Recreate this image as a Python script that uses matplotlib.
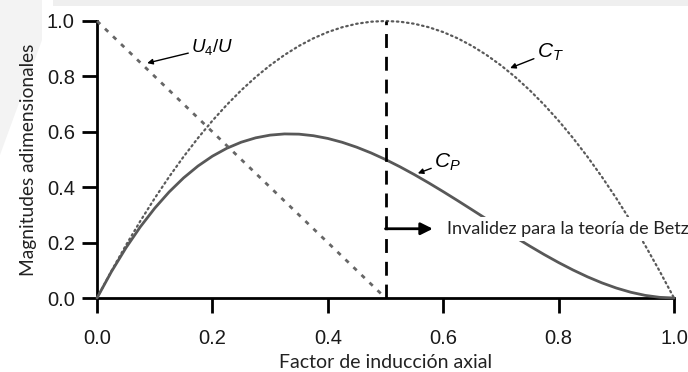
import matplotlib
matplotlib.use("Agg")
import matplotlib.pyplot as plt
from matplotlib.patches import Polygon, Rectangle

# ---- data ----
a_vals = [0.0, 0.025, 0.05, 0.075, 0.1, 0.125, 0.15, 0.175, 0.2, 0.225, 0.25,
          0.275, 0.3, 0.325, 0.35, 0.375, 0.4, 0.425, 0.45, 0.475, 0.5,
          0.525, 0.55, 0.575, 0.6, 0.625, 0.65, 0.675, 0.7, 0.725, 0.75,
          0.775, 0.8, 0.825, 0.85, 0.875, 0.9, 0.925, 0.95, 0.975, 1.0]
ct_vals = [0.0, 0.0975, 0.19, 0.2775, 0.36, 0.4375, 0.51, 0.5775, 0.64, 0.6975, 0.75,
           0.7975, 0.84, 0.8775, 0.91, 0.9375, 0.96, 0.9775, 0.99, 0.9975, 1.0,
           0.9975, 0.99, 0.9775, 0.96, 0.9375, 0.91, 0.8775, 0.84, 0.7975, 0.75,
           0.6975, 0.64, 0.5775, 0.51, 0.4375, 0.36, 0.2775, 0.19, 0.0975, 0.0]
cp_vals = [0.0, 0.0951, 0.1805, 0.2567, 0.324, 0.3828, 0.4335, 0.4764, 0.512, 0.5406, 0.5625,
           0.5782, 0.588, 0.5923, 0.5915, 0.5859, 0.576, 0.5621, 0.5445, 0.5237, 0.5,
           0.4738, 0.4455, 0.4154, 0.384, 0.3516, 0.3185, 0.2852, 0.252, 0.2193, 0.1875,
           0.1569, 0.128, 0.1011, 0.0765, 0.0547, 0.036, 0.0208, 0.0095, 0.0024, 0.0]
u4_a = [0.0, 0.5]
u4_vals = [1.0, 0.0]
betz_limit = 0.5
arrow_y = 0.25
arrow_end = 0.582
ticks = [0.0, 0.2, 0.4, 0.6, 0.8, 1.0]
tick_labels = ["0.0", "0.2", "0.4", "0.6", "0.8", "1.0"]

plt.rcParams['mathtext.fontset'] = 'custom'
plt.rcParams['mathtext.it'] = 'Liberation Sans:italic'
plt.rcParams['mathtext.rm'] = 'Liberation Sans'

fig = plt.figure(figsize=(6.88, 3.72), dpi=100)
fig.patch.set_facecolor('white')

# faint watermark shapes of the background page
W, H = 688.0, 372.0
fig.patches.append(Rectangle((53 / W, 1 - 6 / H), 1 - 53 / W, 6 / H,
                             transform=fig.transFigure, facecolor='#efefef',
                             edgecolor='none', zorder=-10))
fig.patches.append(Polygon([(0, 1), (42 / W, 1), (42 / W, 1 - 40 / H), (0, 1 - 155 / H)],
                           closed=True, transform=fig.transFigure,
                           facecolor='#f3f3f3', edgecolor='none', zorder=-10))

ax = fig.add_axes([97 / W, 1 - 298 / H, 577 / W, 277 / H])
ax.set_facecolor('none')
ax.set_xlim(0, 1)
ax.set_ylim(0, 1)

gray = '#585858'
ax.plot(a_vals, cp_vals, color=gray, lw=2.0, solid_capstyle='round', clip_on=False, zorder=3)
ax.plot(a_vals, ct_vals, color='#5a5a5a', lw=1.6, linestyle=(0, (0.7, 1.6)),
        dash_capstyle='round', clip_on=False, zorder=3)
ax.plot(u4_a, u4_vals, color='#666666', lw=2.0, linestyle=(0, (1.6, 2.4)),
        clip_on=False, zorder=3)
ax.plot([betz_limit, betz_limit], [0, 1], color='black', lw=2.0,
        linestyle=(0, (5.0, 3.2)), clip_on=False, zorder=4)

# arrow for Betz invalidity region
ax.annotate('', xy=(arrow_end, arrow_y), xytext=(betz_limit, arrow_y),
            arrowprops=dict(arrowstyle='-|>', color='black', lw=2.0,
                            mutation_scale=18, shrinkA=0, shrinkB=0), zorder=5)
ax.text(0.607, arrow_y, 'Invalidez para la teoría de Betz', fontsize=13,
        family='Lato', va='center', ha='left', color='#222222',
        bbox=dict(facecolor='white', edgecolor='none', pad=3), zorder=6, clip_on=False)

arrow_kw = dict(arrowstyle='-|>', color='black', lw=1.0, mutation_scale=8,
                shrinkA=0, shrinkB=0)
ax.annotate(r'$U_4/U$', xy=(0.087, 0.848), xytext=(0.163, 0.905),
            fontsize=13.5, ha='left', va='center', arrowprops=arrow_kw, zorder=6)
ax.annotate(r'$C_T$', xy=(0.716, 0.83), xytext=(0.762, 0.887),
            fontsize=15, ha='left', va='center', arrowprops=arrow_kw, zorder=6)
ax.annotate(r'$C_P$', xy=(0.556, 0.45), xytext=(0.584, 0.49),
            fontsize=15, ha='left', va='center', arrowprops=arrow_kw, zorder=6)

for s in ['top', 'right']:
    ax.spines[s].set_visible(False)
for s in ['left', 'bottom']:
    ax.spines[s].set_linewidth(2.0)
    ax.spines[s].set_color('black')
ax.spines['left'].set_bounds(0, 1)
ax.spines['bottom'].set_bounds(0, 1)

ax.set_xticks(ticks)
ax.set_yticks(ticks)
ax.set_xticklabels(tick_labels, fontsize=14.5, family='Liberation Sans', color='#1a1a1a')
ax.set_yticklabels(tick_labels, fontsize=14.5, family='Liberation Sans', color='#1a1a1a')
ax.tick_params(axis='both', direction='out', length=11, width=2.0, color='black')
ax.tick_params(axis='y', pad=5)
ax.tick_params(axis='x', pad=11)

ax.set_xlabel('Factor de inducción axial', fontsize=14, family='Lato',
              color='#222222', labelpad=5)
ax.set_ylabel('Magnitudes adimensionales', fontsize=13.8, family='Lato',
              color='#222222', labelpad=7)

fig.savefig('out.png', dpi=100)
